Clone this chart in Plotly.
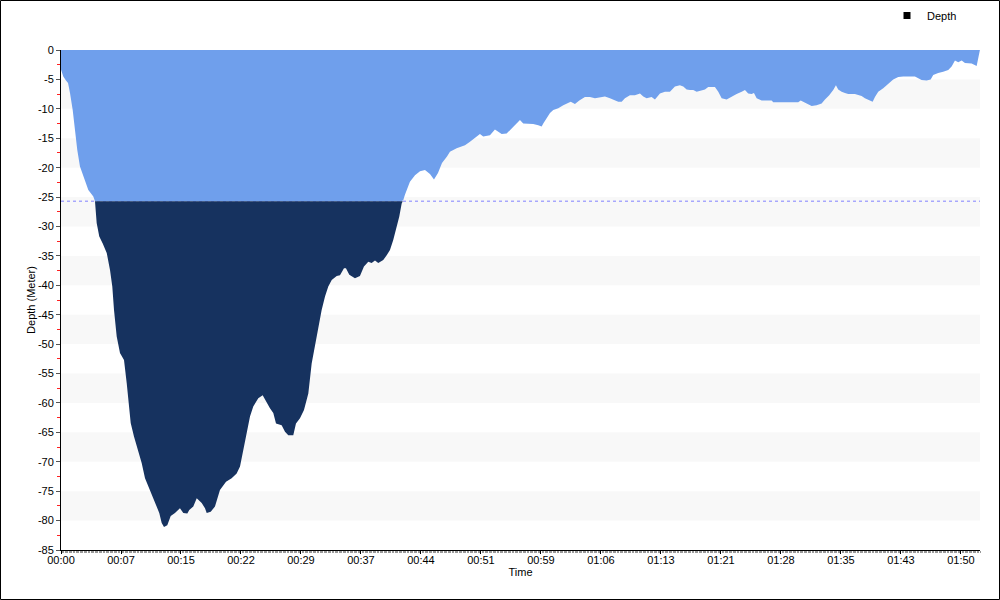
import plotly.graph_objects as go

# ---- data (time in minutes, depth in meters) ----
time_min = [0.00, 0.28, 0.61, 0.86, 1.10, 1.43, 1.71, 1.99, 2.32, 2.73, 3.34, 3.95, 4.16, 4.36, 4.68,
            5.10, 5.59, 5.99, 6.27, 6.48, 6.81, 7.21, 7.70, 8.03, 8.23, 8.52, 8.92, 9.45, 9.86, 10.27,
            10.88, 11.49, 12.01, 12.31, 12.59, 12.99, 13.41, 13.93, 14.54, 14.95, 15.44, 15.68, 16.17,
            16.59, 17.20, 17.60, 17.81, 18.30, 18.82, 19.43, 20.17, 20.86, 21.47, 21.88, 22.28, 22.70,
            23.10, 23.50, 24.11, 24.65, 25.06, 25.54, 25.95, 26.28, 26.97, 27.38, 27.78, 28.39, 28.72,
            29.21, 29.70, 30.23, 30.64, 31.04, 31.45, 31.86, 32.27, 32.67, 33.09, 33.70, 34.10, 34.59,
            34.83, 35.24, 35.93, 36.54, 37.03, 37.56, 37.97, 38.38, 38.78, 39.39, 39.81, 40.21, 40.61,
            41.03, 41.35, 41.64, 41.84, 42.04, 42.65, 43.27, 43.88, 44.49, 45.10, 45.59, 46.08, 46.57,
            47.18, 47.54, 48.36, 49.38, 49.99, 50.81, 51.21, 51.61, 52.43, 53.04, 53.45, 53.86, 54.47,
            55.09, 55.70, 56.10, 56.50, 57.72, 58.34, 58.75, 58.95, 59.36, 59.77, 60.17, 60.78, 61.39,
            61.81, 62.30, 62.82, 63.35, 64.04, 64.65, 65.27, 65.88, 66.49, 67.10, 67.50, 68.11, 68.53,
            68.93, 69.54, 70.15, 70.77, 71.17, 71.58, 72.19, 72.60, 73.21, 73.82, 74.43, 75.04, 75.65,
            76.06, 76.47, 76.88, 77.28, 77.70, 78.31, 78.71, 79.11, 79.93, 80.34, 80.75, 81.36, 81.97,
            82.58, 83.20, 83.60, 84.00, 84.42, 84.70, 85.03, 85.64, 86.86, 87.06, 90.11, 90.41, 90.93,
            91.34, 91.75, 92.36, 92.97, 93.38, 93.90, 94.39, 94.72, 95.00, 95.42, 95.82, 96.22, 97.04,
            97.86, 98.26, 98.67, 99.21, 99.49, 99.89, 100.50, 101.11, 101.72, 102.34, 102.95, 104.38,
            105.19, 105.80, 106.30, 106.61, 107.22, 107.83, 108.45, 108.86, 109.27, 109.67, 110.09,
            110.49, 111.31, 111.92, 112.20, 112.32]

depth_m = [-3.3, -4.5, -5.2, -5.6, -7.3, -10.2, -13.6, -17.0, -19.8, -21.5, -23.8, -24.9, -25.8, -29.4, -31.7,
           -32.9, -34.5, -37.4, -40.2, -44.2, -48.7, -51.5, -52.7, -56.6, -60.0, -63.4, -65.7, -68.0, -70.2, -72.8,
           -74.8, -77.0, -78.7, -80.4, -81.1, -80.8, -79.2, -78.7, -77.9, -78.7, -78.8, -78.2, -77.6,
           -76.2, -77.0, -77.9, -78.7, -78.5, -77.6, -74.8, -73.4, -72.8, -72.0, -70.8, -68.0, -64.6,
           -62.3, -60.6, -59.2, -58.7, -59.8, -60.9, -61.7, -63.5, -63.8, -64.9, -65.5, -65.5, -63.5,
           -62.6, -61.2, -58.4, -53.3, -50.4, -47.0, -44.2, -41.9, -40.2, -39.1, -38.4, -38.3, -37.1,
           -37.1, -38.2, -38.8, -38.4, -36.8, -36.0, -36.2, -35.8, -36.2, -35.7, -34.9, -34.0, -32.3,
           -30.0, -28.3, -26.1, -25.5, -24.6, -22.4, -21.3, -20.6, -20.4, -21.1, -22.0, -20.9, -19.2,
           -18.1, -17.3, -16.7, -16.2, -15.6, -14.7, -14.3, -14.7, -14.5, -13.5, -13.9, -14.3, -14.2,
           -13.3, -12.4, -11.9, -12.5, -12.6, -12.8, -13.0, -12.5, -11.6, -10.7, -10.2, -9.9, -9.4,
           -9.1, -8.8, -9.2, -8.6, -8.0, -8.0, -8.2, -8.0, -7.9, -8.2, -8.4, -8.8, -8.8,
           -8.2, -7.7, -7.7, -7.4, -7.9, -8.2, -8.0, -8.4, -7.4, -7.1, -7.1, -6.2, -6.0,
           -6.2, -6.7, -6.8, -6.8, -7.1, -6.8, -6.7, -6.3, -6.3, -7.1, -8.2, -8.4, -7.9,
           -7.5, -7.1, -6.8, -7.4, -7.5, -7.3, -8.2, -8.6, -8.6, -8.9, -8.9, -8.6, -9.0,
           -9.2, -9.5, -9.4, -9.1, -8.4, -7.7, -6.8, -6.0, -6.7, -7.1, -7.3, -7.5, -7.5,
           -7.8, -8.2, -8.5, -8.8, -8.0, -7.1, -6.5, -5.7, -5.0, -4.6, -4.5, -4.5,
           -5.1, -5.2, -5.0, -4.25, -3.9, -3.7, -3.4, -2.8, -1.8, -2.1, -1.8,
           -2.2, -2.3, -2.7, -0.85, 0.0]

threshold_depth = -25.7
dive_end_min = 112.33

tick_interval_min = 440 / 60
x_tick_labels = ["00:00", "00:07", "00:15", "00:22", "00:29", "00:37", "00:44", "00:51",
                 "00:59", "01:06", "01:13", "01:21", "01:28", "01:35", "01:43", "01:50"]
y_tick_values = [0, -5, -10, -15, -20, -25, -30, -35, -40, -45, -50, -55, -60, -65, -70, -75, -80, -85]
y_tick_labels = ["0", "-5", "-10", "-15", "-20", "-25", "-30", "-35", "-40", "-45", "-50",
                 "-55", "-60", "-65", "-70", "-75", "-80", "-85"]

FONT = "Liberation Sans, Arial, sans-serif"

upper = [max(d, threshold_depth) for d in depth_m]

dark_x, dark_y = [], []
for i in range(len(time_min)):
    d = depth_m[i]
    if i > 0:
        d0 = depth_m[i - 1]
        if (d0 - threshold_depth) * (d - threshold_depth) < 0:
            f = (threshold_depth - d0) / (d - d0)
            dark_x.append(time_min[i - 1] + f * (time_min[i] - time_min[i - 1]))
            dark_y.append(threshold_depth)
    if d <= threshold_depth:
        dark_x.append(time_min[i])
        dark_y.append(d)

fig = go.Figure()
fig.add_trace(go.Scatter(x=time_min, y=upper, mode="lines", line=dict(width=0),
                         fill="tozeroy", fillcolor="#6f9fec", showlegend=False, hoverinfo="skip"))
fig.add_trace(go.Scatter(x=dark_x, y=[threshold_depth] * len(dark_x), mode="lines",
                         line=dict(width=0), showlegend=False, hoverinfo="skip"))
fig.add_trace(go.Scatter(x=dark_x, y=dark_y, mode="lines", line=dict(width=0),
                         fill="tonexty", fillcolor="#16325f", showlegend=False, name="Depth"))
fig.add_trace(go.Scatter(x=[None], y=[None], mode="markers", name="Depth",
                         marker=dict(symbol="square", size=7, color="#000000")))

shapes = []
for top in range(-5, -85, -10):
    shapes.append(dict(type="rect", xref="paper", yref="y", x0=0, x1=1, y0=top, y1=top - 5,
                       fillcolor="#f8f8f8", line=dict(width=0), layer="below"))
shapes.append(dict(type="line", xref="paper", yref="y", x0=0, x1=1, y0=threshold_depth, y1=threshold_depth,
                   line=dict(color="#8080ff", width=1, dash="dot"), layer="below"))
L, R, T, B = 61, 20, 50, 50
pw, ph = 1000 - L - R, 600 - T - B
shapes.append(dict(type="rect", xref="paper", yref="paper",
                   x0=(0.5 - L) / pw, x1=(999.5 - L) / pw,
                   y0=(ph + T - 599.5) / ph, y1=(ph + T - 0.5) / ph,
                   line=dict(color="#000000", width=1), fillcolor="rgba(0,0,0,0)"))

fig.update_layout(
    width=1000, height=600,
    margin=dict(l=L, r=R, t=T, b=B, autoexpand=False),
    paper_bgcolor="#ffffff", plot_bgcolor="#ffffff",
    font=dict(family=FONT, size=11, color="#000000"),
    shapes=shapes,
    showlegend=True,
    legend=dict(x=(887 - L) / pw, y=(T - 1) / ph + 1, xanchor="left", yanchor="top",
                bgcolor="rgba(0,0,0,0)", font=dict(size=11, family=FONT), itemwidth=30,
                tracegroupgap=0),
    xaxis=dict(range=[0, dive_end_min], showgrid=False, zeroline=False,
               tickvals=[i * tick_interval_min for i in range(len(x_tick_labels))],
               ticktext=x_tick_labels, ticks="outside", ticklen=3, tickcolor="#000000",
               ticklabelstandoff=-3,
               showline=True, linecolor="#000000", linewidth=1,
               minor=dict(dtick=10 / 60, ticks="outside", ticklen=2, tickcolor="#999999", showgrid=False),
               title=dict(text="Time", standoff=0, font=dict(size=11)),
               tickfont=dict(size=11), fixedrange=True),
    yaxis=dict(range=[-85, 0], showgrid=False, zeroline=False,
               tickvals=y_tick_values, ticktext=y_tick_labels,
               ticks="outside", ticklen=4, tickcolor="#555555",
               showline=True, linecolor="#000000", linewidth=1,
               minor=dict(tickvals=[v - 2.5 for v in y_tick_values[:-1]], ticks="outside", ticklen=3,
                          tickcolor="#ff2020", showgrid=False),
               title=dict(text="Depth (Meter)", standoff=0, font=dict(size=11)),
               tickfont=dict(size=11), fixedrange=True),
)

fig.write_html("out.html", config={"displayModeBar": False},
               post_script="document.body.style.margin='0';document.body.style.padding='0';")
